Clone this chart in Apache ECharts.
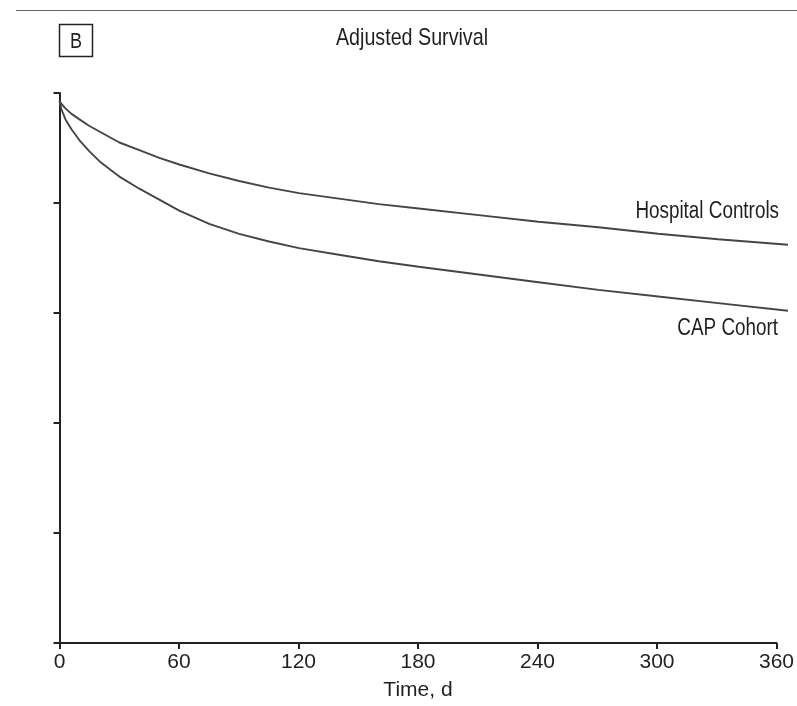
<!DOCTYPE html>
<html>
<head>
<meta charset="utf-8">
<script src="https://cdn.jsdelivr.net/npm/echarts@6/dist/echarts.min.js"></script>
<style>
  html, body { margin: 0; padding: 0; background: #fff; }
  #chart { width: 797px; height: 706px; }
</style>
</head>
<body>
<div id="chart"></div>
<script>
// time points (days)
const days = [0, 1, 3, 6, 10, 15, 20, 25, 30, 40, 50, 60, 75, 90, 105, 120, 140, 160, 180, 210, 240, 270, 300, 330, 365];
// adjusted survival
const hospitalControls = [0.993, 0.990, 0.986, 0.981, 0.976, 0.970, 0.965, 0.960, 0.955, 0.948, 0.941, 0.935, 0.927, 0.920, 0.914, 0.909, 0.904, 0.899, 0.895, 0.889, 0.883, 0.878, 0.872, 0.867, 0.862];
const capCohort = [0.993, 0.985, 0.976, 0.967, 0.957, 0.947, 0.938, 0.931, 0.924, 0.913, 0.903, 0.893, 0.881, 0.872, 0.865, 0.859, 0.853, 0.847, 0.842, 0.835, 0.828, 0.821, 0.815, 0.809, 0.802];
const xTicks = [0, 60, 120, 180, 240, 300, 360];

// no narrow face installed: Liberation Sans squeezed to ~Arial Narrow width where we can
const FONT = '"Liberation Sans", Arial, sans-serif';
const NARROW = 0.82;
const INK = '#231f20';
const AXIS = '#222';

// the curves run a few days past the last tick (365 d), so they sit on a
// second, hidden grid whose x scale matches the visible one but reaches 365
const PX_PER_DAY = (797 - 19 - 59.5) / 360;

const chart = echarts.init(document.getElementById('chart'));

const pairs = (ys) => days.map((d, i) => [d, ys[i]]);

const lineSeries = (name, ys) => ({
  name,
  type: 'line',
  xAxisIndex: 1,
  yAxisIndex: 1,
  data: pairs(ys),
  showSymbol: false,
  smooth: false,
  lineStyle: { color: '#454545', width: 1.9 },
  z: 3,
});

const label = (text, x, y, size, align) => ({
  type: 'text',
  x, y,
  scaleX: NARROW,
  style: { text, font: size + 'px ' + FONT, fill: INK, align, verticalAlign: 'middle' },
});

chart.setOption({
  animation: false,
  grid: [
    { left: 59.5, right: 19, top: 93, bottom: 63 },
    { left: 59.5, right: 797 - 59.5 - 365 * PX_PER_DAY, top: 93, bottom: 63 },
  ],
  xAxis: [
    {
      type: 'value',
      gridIndex: 0,
      min: 0,
      max: 360,
      interval: 60,
      name: 'Time, d',
      nameLocation: 'middle',
      nameGap: 37,
      nameTextStyle: { color: INK, fontFamily: FONT, fontSize: 21 },
      axisLine: { lineStyle: { color: AXIS, width: 2 } },
      axisTick: { show: true, inside: false, length: 6, lineStyle: { color: AXIS, width: 2 } },
      axisLabel: {
        color: INK, fontFamily: FONT, fontSize: 21, margin: 9,
        formatter: (v) => (xTicks.includes(v) ? String(v) : ''),
      },
      splitLine: { show: false },
    },
    {
      type: 'value',
      gridIndex: 1,
      min: 0,
      max: 365,
      show: false,
    },
  ],
  yAxis: [
    {
      type: 'value',
      gridIndex: 0,
      min: 0.5,
      max: 1.0,
      interval: 0.1,
      axisLine: { show: true, lineStyle: { color: AXIS, width: 2 } },
      axisTick: { show: true, inside: false, length: 6, lineStyle: { color: AXIS, width: 2 } },
      axisLabel: { show: false },
      splitLine: { show: false },
    },
    {
      type: 'value',
      gridIndex: 1,
      min: 0.5,
      max: 1.0,
      show: false,
    },
  ],
  series: [
    lineSeries('Hospital Controls', hospitalControls),
    lineSeries('CAP Cohort', capCohort),
  ],
  graphic: [
    { type: 'line', shape: { x1: 16, y1: 10.5, x2: 797, y2: 10.5 }, style: { stroke: '#666', lineWidth: 1.2 } },
    { type: 'rect', shape: { x: 59.5, y: 24.5, width: 33, height: 32 }, style: { fill: '#fff', stroke: AXIS, lineWidth: 1.5 } },
    label('B', 76, 41.5, 22, 'center'),
    label('Adjusted Survival', 412, 38, 24, 'center'),
    label('Hospital Controls', 779, 212, 23, 'right'),
    label('CAP Cohort', 778, 328.5, 23, 'right'),
  ],
});
</script>
</body>
</html>
